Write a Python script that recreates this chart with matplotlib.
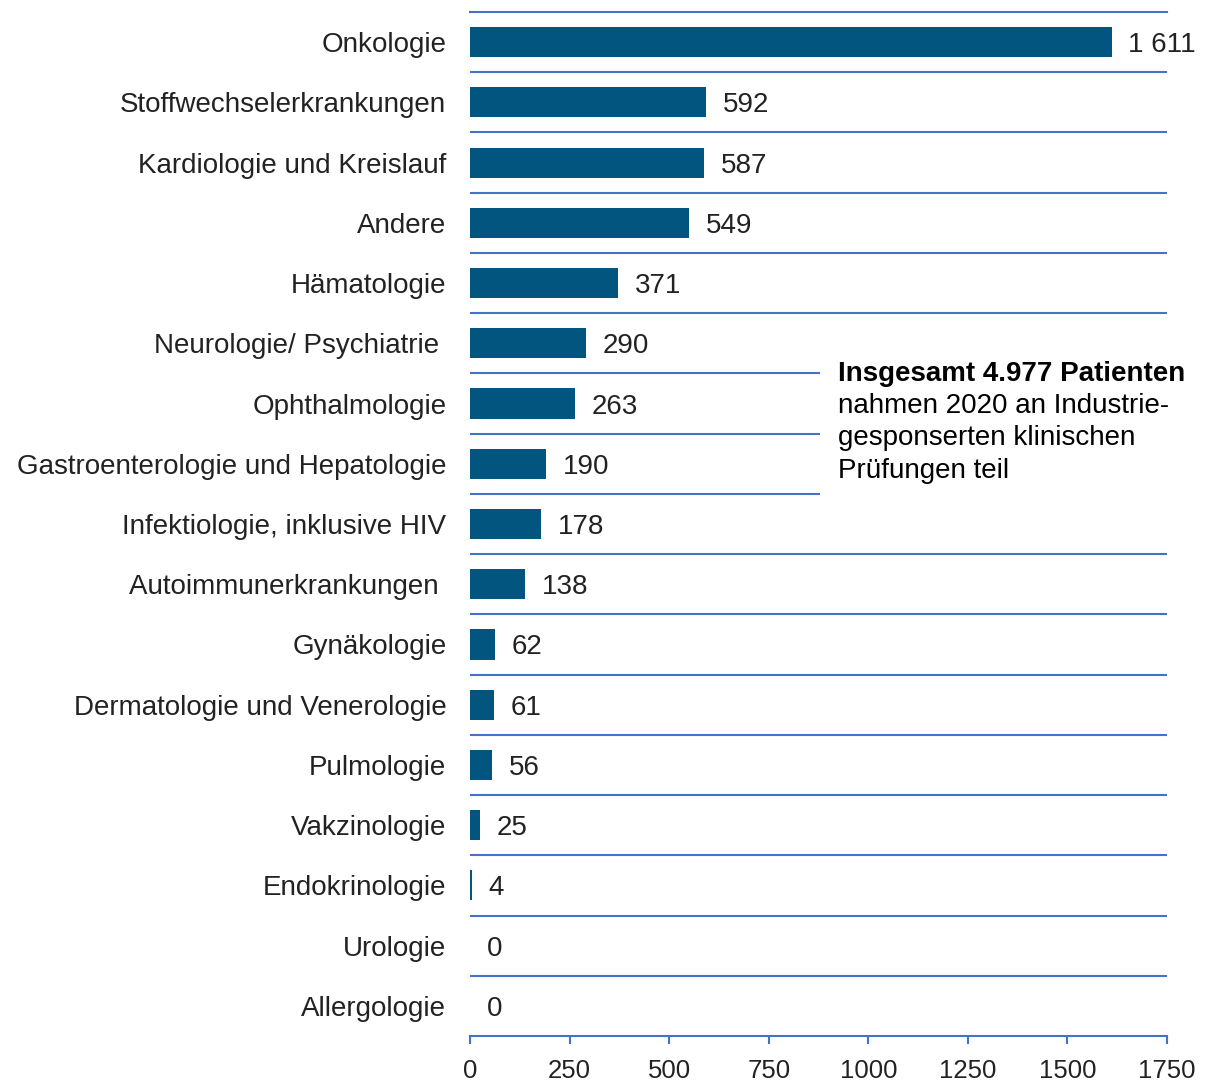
import matplotlib
matplotlib.use("Agg")
import matplotlib.pyplot as plt

matplotlib.rcParams.update({
    "font.family": ["Liberation Sans", "DejaVu Sans"],
    "font.size": 20,
})

categories = [
    "Onkologie", "Stoffwechselerkrankungen", "Kardiologie und Kreislauf",
    "Andere", "Hämatologie", "Neurologie/ Psychiatrie ", "Ophthalmologie",
    "Gastroenterologie und Hepatologie", "Infektiologie, inklusive HIV",
    "Autoimmunerkrankungen ", "Gynäkologie", "Dermatologie und Venerologie",
    "Pulmologie", "Vakzinologie", "Endokrinologie", "Urologie", "Allergologie",
]
values = [1611, 592, 587, 549, 371, 290, 263, 190, 178, 138, 62, 61, 56, 25, 4, 0, 0]
value_labels = ["1 611", "592", "587", "549", "371", "290", "263", "190", "178",
                "138", "62", "61", "56", "25", "4", "0", "0"]
xticks = [0, 250, 500, 750, 1000, 1250, 1500, 1750]
note_lines = ["nahmen 2020 an Industrie-", "gesponserten klinischen", "Prüfungen teil"]

BAR = "#02557f"
LINE = "#4472c4"
TEXT = "#222222"

fig = plt.figure(figsize=(12.06, 10.81), dpi=100)
ax = fig.add_axes([470 / 1206, 1 - 1036 / 1081, 697 / 1206, 1024 / 1081])

y = list(range(len(categories)))
ax.barh(y, values, height=0.5, color=BAR, zorder=3)
for yi, v, lab in zip(y, values, value_labels):
    ax.text(v + 42, yi, lab, va="center_baseline", ha="left", color=TEXT, fontsize=20)

ax.set_xlim(0, 1750)
ax.set_ylim(len(categories) - 0.5, -0.5)

# separators between categories; three short ones next to the note
short = {5.5, 6.5, 7.5}
for i in range(len(categories) - 1):
    yy = i + 0.5
    ax.axhline(yy, xmin=0, xmax=0.5 if yy in short else 1,
               color=LINE, linewidth=1.5, zorder=1)

for side in ["left", "right"]:
    ax.spines[side].set_visible(False)
for side in ["top", "bottom"]:
    ax.spines[side].set_color(LINE)
    ax.spines[side].set_linewidth(1.5)

ax.set_yticks(y)
ax.set_yticklabels(categories, fontsize=20, color=TEXT, va="center_baseline")
ax.tick_params(axis="y", length=0, pad=17)
ax.set_xticks(xticks)
ax.set_xticklabels([str(t) for t in xticks], fontsize=18.5, color=TEXT,
                   family=["Liberation Sans Narrow", "Liberation Sans"],
                   fontstretch="condensed")
ax.tick_params(axis="x", length=6, width=1.5, color=LINE, pad=10.5)

fig.text(838 / 1206, 1 - 371 / 1081, "Insgesamt 4.977 Patienten",
         fontsize=20, fontweight="bold", va="center_baseline", ha="left")
for k, line in enumerate(note_lines):
    fig.text(838 / 1206, 1 - (403 + 32.5 * k) / 1081, line,
             fontsize=20, va="center_baseline", ha="left")

fig.savefig("out.png", dpi=100)
